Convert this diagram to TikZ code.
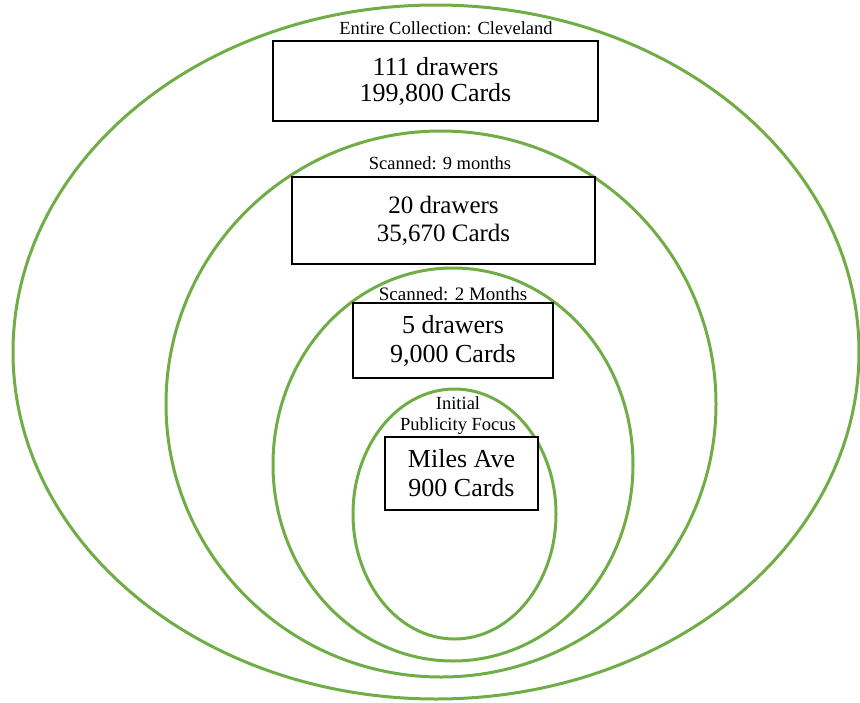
\documentclass[tikz,border=0pt]{standalone}
\usepackage{fontspec}
\setmainfont{Liberation Serif}
\usepackage{xcolor}
\usepackage{tikz}
\definecolor{ringgreen}{RGB}{112,173,71}
\tikzset{
    ring/.style={draw=ringgreen, line width=3pt},
    countbox/.style={draw=black, fill=white, line width=1.8pt, align=center,
        font=\fontsize{26}{29}\selectfont},
    ringlabel/.style={inner sep=0pt, align=center,
        font=\fontsize{18.5}{21}\selectfont}
}

\begin{document}
\begin{tikzpicture}[x=1pt, y=-1pt]

    % Fix the page to the size of the picture
    \useasboundingbox (0,0) rectangle (860,702);

    % Draw the four nested rings: centre x / centre y / x radius / y radius
    \foreach \cx/\cy/\rx/\ry in {436/352/423/347, 441/404/275/273,
                                 453/464.5/180/196.5, 454.5/514/101.5/125}{
        \draw[ring] (\cx,\cy) ellipse ({\rx pt} and {\ry pt});
    }

    % Entire collection
    \node[ringlabel] (colllabel) at (446,28) {Entire Collection: Cleveland};
    \node[countbox, minimum width=325pt, minimum height=80pt,
        font=\fontsize{26}{26}\selectfont] (collbox) at (435.5,81)
        {111 drawers\\199,800 Cards};

    % Scanned in nine months
    \node[ringlabel] (ninelabel) at (440,163) {Scanned: 9 months};
    \node[countbox, minimum width=303pt, minimum height=87pt,
        font=\fontsize{25}{28}\selectfont] (ninebox) at (443.5,220.5)
        {20 drawers\\35,670 Cards};

    % Scanned in two months
    \node[ringlabel, font=\fontsize{19}{21}\selectfont] (twolabel) at (453,294)
        {Scanned: 2 Months};
    \node[countbox, minimum width=200pt, minimum height=75pt] (twobox)
        at (453,340.5) {5 drawers\\9,000 Cards};

    % Initial publicity focus
    \node[ringlabel] (focuslabel) at (458,415.5) {Initial\\Publicity Focus};
    \node[countbox, minimum width=153pt, minimum height=73pt] (focusbox)
        at (461.5,473.5) {Miles Ave\\900 Cards};

\end{tikzpicture}
\end{document}
